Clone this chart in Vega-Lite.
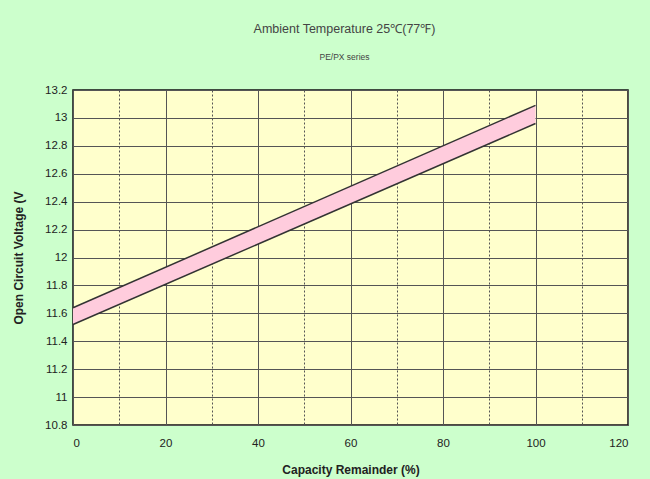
{
  "$schema": "https://vega.github.io/schema/vega-lite/v6.json",
  "autosize": "none",
  "width": 555,
  "height": 335,
  "padding": {"left": 73, "top": 90, "right": 22, "bottom": 54},
  "background": "#ccffcc",
  "config": {
    "font": "Liberation Sans",
    "view": {"fill": "#ffffcc", "stroke": "#111111", "strokeWidth": 1.5},
    "axis": {"domain": false, "ticks": false, "labelOverlap": false, "gridColor": "#555555", "gridOpacity": 1, "gridWidth": 1, "labelColor": "#222222", "labelFontSize": 11.5, "titleColor": "#222222", "titleFontSize": 12, "titleFontWeight": "bold"}
  },
  "title": {
    "text": "Ambient Temperature 25℃(77℉)",
    "subtitle": "PE/PX series",
    "fontSize": 12.5,
    "fontWeight": "normal",
    "color": "#444444",
    "subtitleFontSize": 8.5,
    "subtitleColor": "#444444",
    "subtitlePadding": 17,
    "offset": 23,
    "dx": -6,
    "anchor": "middle"
  },
  "data": {
    "values": [
      {"capacity": 0, "lo": 11.52, "hi": 11.64},
      {"capacity": 100, "lo": 12.96, "hi": 13.09}
    ]
  },
  "encoding": {
    "x": {
      "field": "capacity", "type": "quantitative",
      "scale": {"domain": [0, 120], "nice": false, "zero": false},
      "axis": {
        "values": [0, 10, 20, 30, 40, 50, 60, 70, 80, 90, 100, 110, 120],
        "labelExpr": "datum.value % 20 === 0 ? datum.label : ''",
        "labelPadding": 12,
        "title": "Capacity Remainder (%)",
        "titlePadding": 16,
        "gridDash": {"condition": {"test": "datum.value % 20 !== 0", "value": [2, 2]}, "value": []}
      }
    }
  },
  "layer": [
    {
      "mark": {"type": "area", "color": "#ffccdd", "opacity": 1},
      "encoding": {
        "y": {
          "field": "lo", "type": "quantitative",
          "scale": {"domain": [10.8, 13.2], "nice": false, "zero": false},
          "axis": {
            "values": [10.8, 11, 11.2, 11.4, 11.6, 11.8, 12, 12.2, 12.4, 12.6, 12.8, 13, 13.2],
            "format": "~g",
            "labelPadding": 6,
            "title": "Open Circuit Voltage (V",
            "titlePadding": 19
          }
        },
        "y2": {"field": "hi"}
      }
    },
    {
      "mark": {"type": "line", "color": "#333333", "strokeWidth": 1.5},
      "encoding": {
        "y": {
          "field": "lo", "type": "quantitative",
          "scale": {"domain": [10.8, 13.2], "nice": false, "zero": false},
          "axis": {
            "values": [10.8, 11, 11.2, 11.4, 11.6, 11.8, 12, 12.2, 12.4, 12.6, 12.8, 13, 13.2],
            "format": "~g",
            "labelPadding": 6,
            "title": "Open Circuit Voltage (V",
            "titlePadding": 19
          }
        }
      }
    },
    {
      "mark": {"type": "line", "color": "#333333", "strokeWidth": 1.5},
      "encoding": {
        "y": {
          "field": "hi", "type": "quantitative",
          "scale": {"domain": [10.8, 13.2], "nice": false, "zero": false},
          "axis": {
            "values": [10.8, 11, 11.2, 11.4, 11.6, 11.8, 12, 12.2, 12.4, 12.6, 12.8, 13, 13.2],
            "format": "~g",
            "labelPadding": 6,
            "title": "Open Circuit Voltage (V",
            "titlePadding": 19
          }
        }
      }
    }
  ]
}
